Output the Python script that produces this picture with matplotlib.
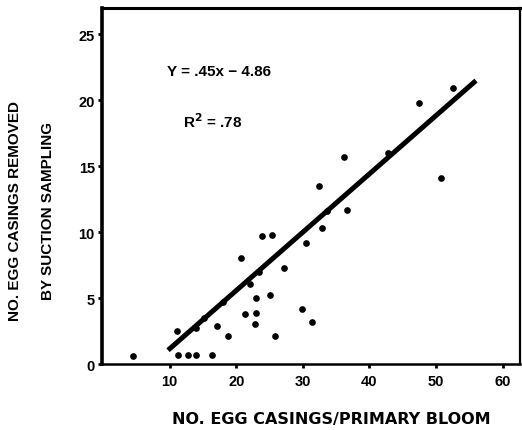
import numpy as np
import matplotlib.pyplot as plt

plt.rcParams['font.family'] = ['Liberation Sans', 'DejaVu Sans']
plt.rcParams['font.weight'] = 'bold'

# egg casings per primary bloom vs. casings removed by suction sampling
casings_bloom = np.array([4.5, 11.1, 11.25, 12.7, 14.0, 16.3, 13.9, 15.2, 17.1, 18.7,
                          18.0, 20.7, 21.3, 22.0, 22.8, 22.9, 22.9, 23.4, 23.8, 25.1,
                          25.4, 25.8, 27.1, 29.9, 30.5, 31.3, 32.4, 32.9, 33.6, 36.2,
                          36.7, 42.8, 47.5, 50.7, 52.5])
casings_removed = np.array([0.6, 2.5, 0.7, 0.7, 0.7, 0.7, 2.7, 3.5, 2.9, 2.1,
                            4.7, 8.05, 3.8, 6.1, 3.05, 3.9, 5.0, 7.0, 9.7, 5.2,
                            9.8, 2.15, 7.25, 4.15, 9.15, 3.2, 13.5, 10.3, 11.6, 15.7,
                            11.65, 16.0, 19.8, 14.1, 20.9])

# fitted line as drawn (end points)
fit_x = [9.75, 56.0]
fit_y = [1.05, 21.5]

x_ticks = [10, 20, 30, 40, 50, 60]
y_ticks = [0, 5, 10, 15, 20, 25]

fig = plt.figure(figsize=(5.22, 4.31), dpi=100)
ax = fig.add_axes([0.195, 0.153, 0.801, 0.826])

ax.plot(fit_x, fit_y, color='black', linewidth=3.6, solid_capstyle='butt')
ax.plot(casings_bloom, casings_removed, 'o', color='black', markersize=3.8)

ax.set_xlim(-0.2, 62.6)
ax.set_ylim(0, 27.0)
ax.set_xticks(x_ticks)
ax.set_yticks(y_ticks)
ax.tick_params(axis='both', direction='out', length=3, width=2, labelsize=10.5)
ax.tick_params(axis='x', pad=4)
ax.tick_params(axis='y', pad=2)

ax.spines['left'].set_linewidth(2.6)
ax.spines['top'].set_linewidth(2.2)
ax.spines['bottom'].set_linewidth(1.8)
ax.spines['right'].set_linewidth(1.6)

ax.text(0.156, 0.823, 'Y = .45x \u2212 4.86', transform=ax.transAxes, fontsize=11,
        va='center')
ax.text(0.194, 0.683, 'R$^2$ = .78', transform=ax.transAxes, fontsize=11,
        va='center')

fig.text(0.634, 0.026, 'NO. EGG CASINGS/PRIMARY BLOOM', ha='center', va='center',
         fontsize=11.5, family='DejaVu Sans')
fig.text(0.029, 0.51, 'NO. EGG CASINGS REMOVED', rotation=90, ha='center', va='center',
         fontsize=11)
fig.text(0.092, 0.51, 'BY SUCTION SAMPLING', rotation=90, ha='center', va='center',
         fontsize=11)

fig.savefig('out.png', dpi=100)
